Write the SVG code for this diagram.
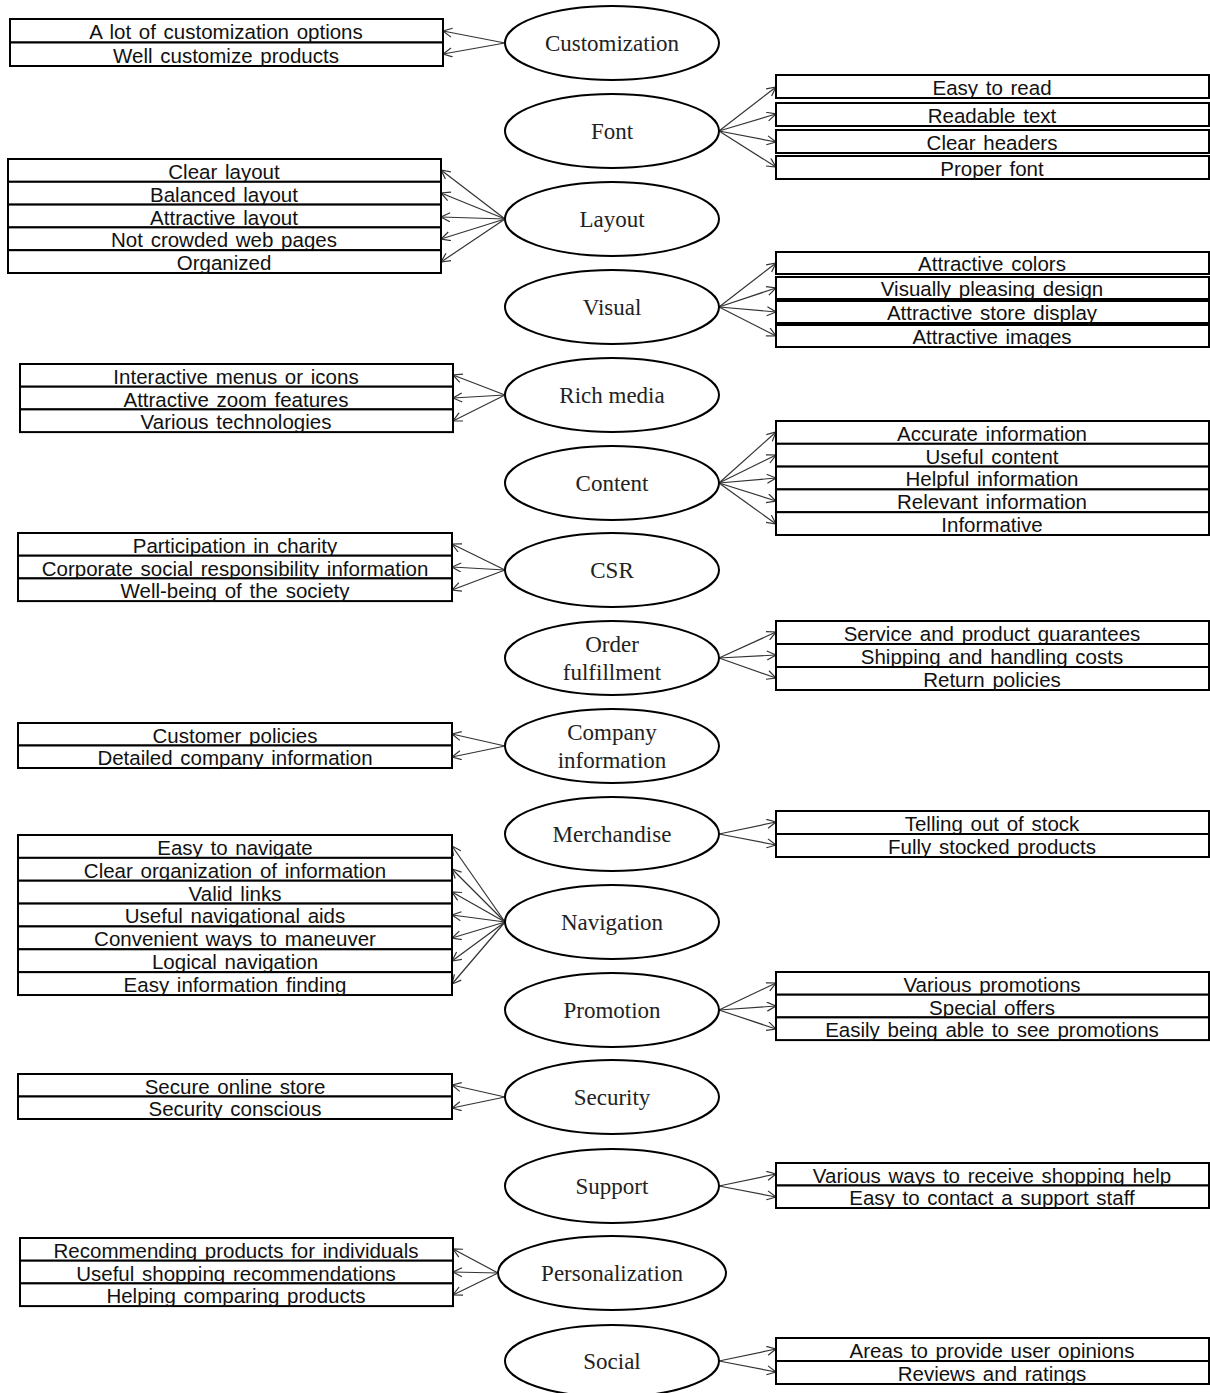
<svg xmlns="http://www.w3.org/2000/svg" width="1210" height="1393" viewBox="0 0 1210 1393">
<style>
.b{fill:#fff;stroke:#000;stroke-width:2}
.t{font-family:"Liberation Sans",Arial,sans-serif;font-size:20.5px;text-anchor:middle;fill:#111;word-spacing:2px}
.e{fill:#fff;stroke:#000;stroke-width:2}
.n{font-family:"Liberation Serif","Times New Roman",serif;font-size:23px;text-anchor:middle;fill:#222}
.c{stroke:#333;stroke-width:1.2;fill:none;marker-end:url(#a)}
</style>
<defs>
<marker id="a" markerWidth="12" markerHeight="12" refX="10" refY="5" orient="auto" markerUnits="userSpaceOnUse">
<path d="M1,0.5 L10,5 L1,9.5" fill="none" stroke="#333" stroke-width="1.2"/>
</marker>
</defs>
<g id="connectors">
<line class="c" x1="505" y1="43" x2="443" y2="31"/>
<line class="c" x1="505" y1="43" x2="443" y2="54"/>
<line class="c" x1="719" y1="131" x2="776" y2="87"/>
<line class="c" x1="719" y1="131" x2="776" y2="114"/>
<line class="c" x1="719" y1="131" x2="776" y2="142"/>
<line class="c" x1="719" y1="131" x2="776" y2="167"/>
<line class="c" x1="505" y1="219" x2="441" y2="170"/>
<line class="c" x1="505" y1="219" x2="441" y2="193"/>
<line class="c" x1="505" y1="219" x2="441" y2="217"/>
<line class="c" x1="505" y1="219" x2="441" y2="239"/>
<line class="c" x1="505" y1="219" x2="441" y2="262"/>
<line class="c" x1="719" y1="307" x2="776" y2="263"/>
<line class="c" x1="719" y1="307" x2="776" y2="288"/>
<line class="c" x1="719" y1="307" x2="776" y2="312"/>
<line class="c" x1="719" y1="307" x2="776" y2="336"/>
<line class="c" x1="505" y1="395" x2="453" y2="375"/>
<line class="c" x1="505" y1="395" x2="453" y2="398"/>
<line class="c" x1="505" y1="395" x2="453" y2="421"/>
<line class="c" x1="719" y1="483" x2="776" y2="432"/>
<line class="c" x1="719" y1="483" x2="776" y2="455"/>
<line class="c" x1="719" y1="483" x2="776" y2="478"/>
<line class="c" x1="719" y1="483" x2="776" y2="501"/>
<line class="c" x1="719" y1="483" x2="776" y2="524"/>
<line class="c" x1="505" y1="570" x2="452" y2="544"/>
<line class="c" x1="505" y1="570" x2="452" y2="567"/>
<line class="c" x1="505" y1="570" x2="452" y2="590"/>
<line class="c" x1="719" y1="658" x2="776" y2="632"/>
<line class="c" x1="719" y1="658" x2="776" y2="655"/>
<line class="c" x1="719" y1="658" x2="776" y2="678"/>
<line class="c" x1="505" y1="746" x2="452" y2="734"/>
<line class="c" x1="505" y1="746" x2="452" y2="757"/>
<line class="c" x1="719" y1="834" x2="776" y2="822"/>
<line class="c" x1="719" y1="834" x2="776" y2="845"/>
<line class="c" x1="505" y1="922" x2="452" y2="846"/>
<line class="c" x1="505" y1="922" x2="452" y2="869"/>
<line class="c" x1="505" y1="922" x2="452" y2="892"/>
<line class="c" x1="505" y1="922" x2="452" y2="915"/>
<line class="c" x1="505" y1="922" x2="452" y2="938"/>
<line class="c" x1="505" y1="922" x2="452" y2="961"/>
<line class="c" x1="505" y1="922" x2="452" y2="984"/>
<line class="c" x1="719" y1="1010" x2="776" y2="983"/>
<line class="c" x1="719" y1="1010" x2="776" y2="1006"/>
<line class="c" x1="719" y1="1010" x2="776" y2="1029"/>
<line class="c" x1="505" y1="1097" x2="452" y2="1085"/>
<line class="c" x1="505" y1="1097" x2="452" y2="1108"/>
<line class="c" x1="719" y1="1186" x2="776" y2="1174"/>
<line class="c" x1="719" y1="1186" x2="776" y2="1197"/>
<line class="c" x1="498" y1="1273" x2="453" y2="1249"/>
<line class="c" x1="498" y1="1273" x2="453" y2="1272"/>
<line class="c" x1="498" y1="1273" x2="453" y2="1295"/>
<line class="c" x1="719" y1="1361" x2="776" y2="1349"/>
<line class="c" x1="719" y1="1361" x2="776" y2="1372"/>
</g>

<g id="customization">
<ellipse class="e" cx="612" cy="43" rx="107" ry="37"/>
<text class="n" x="612" y="51">Customization</text>
<rect class="b" x="10" y="19" width="433" height="23.5"/><text class="t" x="226" y="39">A lot of customization options</text>
<rect class="b" x="10" y="42.5" width="433" height="23.5"/><text class="t" x="226" y="62.5">Well customize products</text>
</g>

<g id="font">
<ellipse class="e" cx="612" cy="131" rx="107" ry="37"/>
<text class="n" x="612" y="139">Font</text>
<rect class="b" x="776" y="75" width="433" height="23"/><text class="t" x="992" y="95">Easy to read</text>
<rect class="b" x="776" y="103" width="433" height="23"/><text class="t" x="992" y="123">Readable text</text>
<rect class="b" x="776" y="130" width="433" height="23"/><text class="t" x="992" y="150">Clear headers</text>
<rect class="b" x="776" y="156" width="433" height="23"/><text class="t" x="992" y="176">Proper font</text>
</g>

<g id="layout">
<ellipse class="e" cx="612" cy="219" rx="107" ry="37"/>
<text class="n" x="612" y="227">Layout</text>
<rect class="b" x="8" y="159" width="433" height="22.8"/><text class="t" x="224" y="179">Clear layout</text>
<rect class="b" x="8" y="181.8" width="433" height="22.8"/><text class="t" x="224" y="202">Balanced layout</text>
<rect class="b" x="8" y="204.6" width="433" height="22.8"/><text class="t" x="224" y="224.5">Attractive layout</text>
<rect class="b" x="8" y="227.4" width="433" height="22.8"/><text class="t" x="224" y="247">Not crowded web pages</text>
<rect class="b" x="8" y="250.2" width="433" height="22.8"/><text class="t" x="224" y="270">Organized</text>
</g>

<g id="visual">
<ellipse class="e" cx="612" cy="307" rx="107" ry="37"/>
<text class="n" x="612" y="315">Visual</text>
<rect class="b" x="776" y="252" width="433" height="22"/><text class="t" x="992" y="271">Attractive colors</text>
<rect class="b" x="776" y="277" width="433" height="22"/><text class="t" x="992" y="296">Visually pleasing design</text>
<rect class="b" x="776" y="301" width="433" height="22"/><text class="t" x="992" y="320">Attractive store display</text>
<rect class="b" x="776" y="325" width="433" height="22"/><text class="t" x="992" y="344">Attractive images</text>
</g>

<g id="rich-media">
<ellipse class="e" cx="612" cy="395" rx="107" ry="37"/>
<text class="n" x="612" y="403">Rich media</text>
<rect class="b" x="20" y="364" width="433" height="22.7"/><text class="t" x="236" y="384">Interactive menus or icons</text>
<rect class="b" x="20" y="386.7" width="433" height="22.7"/><text class="t" x="236" y="407">Attractive zoom features</text>
<rect class="b" x="20" y="409.4" width="433" height="22.7"/><text class="t" x="236" y="429">Various technologies</text>
</g>

<g id="content">
<ellipse class="e" cx="612" cy="483" rx="107" ry="37"/>
<text class="n" x="612" y="491">Content</text>
<rect class="b" x="776" y="421" width="433" height="22.8"/><text class="t" x="992" y="441">Accurate information</text>
<rect class="b" x="776" y="443.8" width="433" height="22.8"/><text class="t" x="992" y="464">Useful content</text>
<rect class="b" x="776" y="466.6" width="433" height="22.8"/><text class="t" x="992" y="486">Helpful information</text>
<rect class="b" x="776" y="489.4" width="433" height="22.8"/><text class="t" x="992" y="509">Relevant information</text>
<rect class="b" x="776" y="512.2" width="433" height="22.8"/><text class="t" x="992" y="532">Informative</text>
</g>

<g id="csr">
<ellipse class="e" cx="612" cy="570" rx="107" ry="37"/>
<text class="n" x="612" y="578">CSR</text>
<rect class="b" x="18" y="533" width="434" height="22.7"/><text class="t" x="235" y="553">Participation in charity</text>
<rect class="b" x="18" y="555.7" width="434" height="22.7"/><text class="t" x="235" y="576">Corporate social responsibility information</text>
<rect class="b" x="18" y="578.4" width="434" height="22.7"/><text class="t" x="235" y="598">Well-being of the society</text>
</g>

<g id="order-fulfillment">
<ellipse class="e" cx="612" cy="658" rx="107" ry="37"/>
<text class="n" x="612" y="652">Order</text>
<text class="n" x="612" y="680">fulfillment</text>
<rect class="b" x="776" y="621" width="433" height="23"/><text class="t" x="992" y="641">Service and product guarantees</text>
<rect class="b" x="776" y="644" width="433" height="23"/><text class="t" x="992" y="664">Shipping and handling costs</text>
<rect class="b" x="776" y="667" width="433" height="23"/><text class="t" x="992" y="687">Return policies</text>
</g>

<g id="company-information">
<ellipse class="e" cx="612" cy="746" rx="107" ry="37"/>
<text class="n" x="612" y="740">Company</text>
<text class="n" x="612" y="768">information</text>
<rect class="b" x="18" y="723" width="434" height="22.5"/><text class="t" x="235" y="743">Customer policies</text>
<rect class="b" x="18" y="745.5" width="434" height="22.5"/><text class="t" x="235" y="765">Detailed company information</text>
</g>

<g id="merchandise">
<ellipse class="e" cx="612" cy="834" rx="107" ry="37"/>
<text class="n" x="612" y="842">Merchandise</text>
<rect class="b" x="776" y="811" width="433" height="23"/><text class="t" x="992" y="831">Telling out of stock</text>
<rect class="b" x="776" y="834" width="433" height="23"/><text class="t" x="992" y="854">Fully stocked products</text>
</g>

<g id="navigation">
<ellipse class="e" cx="612" cy="922" rx="107" ry="37"/>
<text class="n" x="612" y="930">Navigation</text>
<rect class="b" x="18" y="835" width="434" height="22.86"/><text class="t" x="235" y="855">Easy to navigate</text>
<rect class="b" x="18" y="857.86" width="434" height="22.86"/><text class="t" x="235" y="878">Clear organization of information</text>
<rect class="b" x="18" y="880.72" width="434" height="22.86"/><text class="t" x="235" y="901">Valid links</text>
<rect class="b" x="18" y="903.58" width="434" height="22.86"/><text class="t" x="235" y="923">Useful navigational aids</text>
<rect class="b" x="18" y="926.44" width="434" height="22.86"/><text class="t" x="235" y="946">Convenient ways to maneuver</text>
<rect class="b" x="18" y="949.3" width="434" height="22.86"/><text class="t" x="235" y="969">Logical navigation</text>
<rect class="b" x="18" y="972.16" width="434" height="22.86"/><text class="t" x="235" y="992">Easy information finding</text>
</g>

<g id="promotion">
<ellipse class="e" cx="612" cy="1010" rx="107" ry="37"/>
<text class="n" x="612" y="1018">Promotion</text>
<rect class="b" x="776" y="972" width="433" height="22.7"/><text class="t" x="992" y="992">Various promotions</text>
<rect class="b" x="776" y="994.7" width="433" height="22.7"/><text class="t" x="992" y="1015">Special offers</text>
<rect class="b" x="776" y="1017.4" width="433" height="22.7"/><text class="t" x="992" y="1037">Easily being able to see promotions</text>
</g>

<g id="security">
<ellipse class="e" cx="612" cy="1097" rx="107" ry="37"/>
<text class="n" x="612" y="1105">Security</text>
<rect class="b" x="18" y="1074" width="434" height="22.5"/><text class="t" x="235" y="1094">Secure online store</text>
<rect class="b" x="18" y="1096.5" width="434" height="22.5"/><text class="t" x="235" y="1116">Security conscious</text>
</g>

<g id="support">
<ellipse class="e" cx="612" cy="1186" rx="107" ry="37"/>
<text class="n" x="612" y="1194">Support</text>
<rect class="b" x="776" y="1163" width="433" height="22.5"/><text class="t" x="992" y="1183">Various ways to receive shopping help</text>
<rect class="b" x="776" y="1185.5" width="433" height="22.5"/><text class="t" x="992" y="1205">Easy to contact a support staff</text>
</g>

<g id="personalization">
<ellipse class="e" cx="612" cy="1273" rx="114" ry="37"/>
<text class="n" x="612" y="1281">Personalization</text>
<rect class="b" x="20" y="1238" width="433" height="22.7"/><text class="t" x="236" y="1258">Recommending products for individuals</text>
<rect class="b" x="20" y="1260.7" width="433" height="22.7"/><text class="t" x="236" y="1281">Useful shopping recommendations</text>
<rect class="b" x="20" y="1283.4" width="433" height="22.7"/><text class="t" x="236" y="1303">Helping comparing products</text>
</g>

<g id="social">
<ellipse class="e" cx="612" cy="1361" rx="107" ry="36"/>
<text class="n" x="612" y="1369">Social</text>
<rect class="b" x="776" y="1338" width="433" height="23"/><text class="t" x="992" y="1358">Areas to provide user opinions</text>
<rect class="b" x="776" y="1361" width="433" height="23"/><text class="t" x="992" y="1381">Reviews and ratings</text>
</g>
</svg>
